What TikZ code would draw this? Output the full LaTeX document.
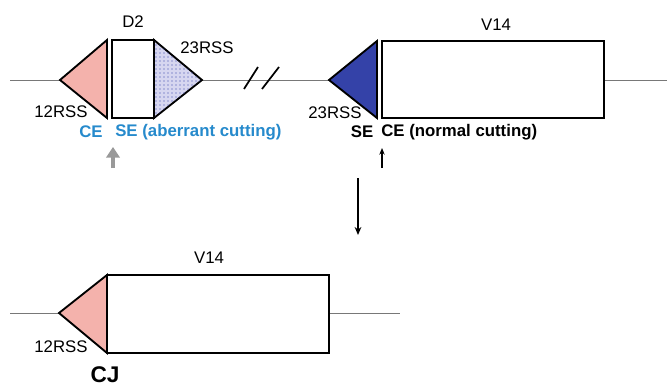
\documentclass[tikz,border=0pt]{standalone}
\usepackage{fontspec}
\setmainfont{Liberation Sans}
\definecolor{rsspink}{RGB}{244, 178, 172}
\definecolor{rssblue}{RGB}{52, 66, 168}
\definecolor{rsslav}{RGB}{214, 214, 240}
\definecolor{cuttext}{RGB}{38, 138, 204}
\definecolor{dnaline}{RGB}{120, 120, 120}
\usetikzlibrary{positioning, arrows.meta, patterns}

\begin{document}
\begin{tikzpicture}[x=0.75pt, y=-0.75pt, every node/.style={font=\fontsize{12.6}{14}\selectfont, inner sep=0pt},
    dna/.style={draw=dnaline, line width=0.7pt},
    seg/.style={draw=black, line width=1.4pt, line join=miter},
    cut/.style={text=cuttext, font=\fontsize{12.6}{14}\selectfont\bfseries}]
        \useasboundingbox (0,0) rectangle (667,389);
        % DNA backbone, top row
        \draw[dna] (10,80) coordinate (ltop) -- (60,80) coordinate (t12);
        \draw[dna] (202,80) coordinate (t23d) -- (329,80) coordinate (t23v);
        \draw[dna] (604,80) coordinate (rv) -- (667,80) coordinate (rtop);
        % break marks
        \draw[line width=1.3pt] (244,89) -- (258,67);
        \draw[line width=1.3pt] (262,89) -- (279,67);
        % 12RSS of D2
        \draw[seg, fill=rsspink] (t12) -- (107,40) -- (107,118) -- cycle;
        % D2 segment with its 23RSS
        \draw[seg, fill=rsslav, postaction={pattern=dots, pattern color=rssblue}] (154,40) -- (t23d) -- (154,118) -- cycle;
        \draw[seg, fill=white] (112,40) rectangle (154,118);
        \node (d2) at (133,22) {D2};
        \node (d2rss) at (207,48) {23RSS};
        \node (d2rsa) at (61,112) {12RSS};
        % 23RSS of V14 and V14 segment
        \draw[seg, fill=rssblue] (t23v) -- (377,41) -- (377,118) -- cycle;
        \draw[seg, fill=white] (382,41) rectangle (604,118);
        \node (v14) at (496,25) {V14};
        \node (v14rss) at (335,113) {23RSS};
        % cutting ends
        \node[cut] (ce1) at (91,132) {CE};
        \node[cut, anchor=west] (se1) at (115,132) {SE (aberrant cutting)};
        \node[font=\fontsize{12.6}{14}\selectfont\bfseries] (se2) at (362,132) {SE};
        \node[font=\fontsize{12.6}{14}\selectfont\bfseries, anchor=west] (ce2) at (381,132) {CE (normal cutting)};
        % cut arrows
        \coordinate (gfoot) at (113,168);
        \coordinate (gtip) at (113,147);
        \draw[-{Triangle[length=8pt, width=10pt]}, line width=3pt, color=gray!80] (gfoot) -- (gtip);
        \coordinate (bfoot) at (382,168);
        \coordinate (btip) at (382,148);
        \draw[-{Stealth[length=5pt, width=4pt]}, line width=0.9pt] (bfoot) -- (btip);
        % joining step
        \coordinate (jtop) at (358,178);
        \coordinate (jbot) at (358,235);
        \draw[-{Stealth[length=6pt, width=5pt]}, line width=1.6pt] (jtop) -- (jbot);
        % coding joint, bottom row
        \draw[dna] (10,313) coordinate (lbot) -- (59,313) coordinate (b12);
        \draw[dna] (329,313) coordinate (bv) -- (400,313) coordinate (rbot);
        \draw[seg, fill=rsspink] (b12) -- (107,275) -- (107,353) -- cycle;
        \draw[seg, fill=white] (107,275) rectangle (bv |- 0,353);
        \node (v14b) at (209,258) {V14};
        \node (rssb) at (61,347) {12RSS};
        \node[font=\fontsize{17}{20}\selectfont\bfseries] (cj) at (105,375) {CJ};
      \end{tikzpicture}
\end{document}
